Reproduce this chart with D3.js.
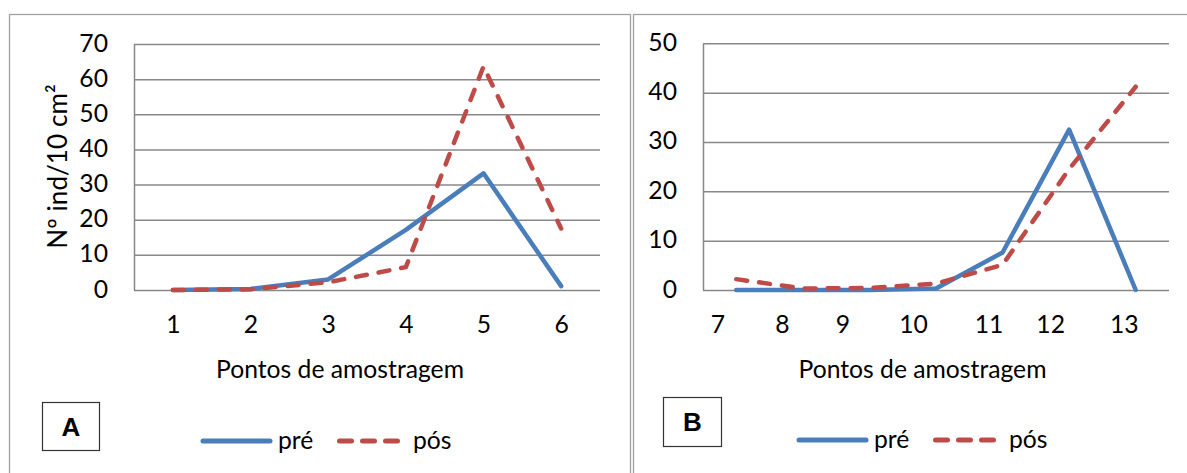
<!DOCTYPE html>
<html>
<head>
<meta charset="utf-8">
<script src="https://cdn.jsdelivr.net/npm/d3@7"></script>
<style>
  html, body { margin: 0; padding: 0; background: #fff; }
  svg { display: block; }
</style>
</head>
<body>
<svg id="chart" width="1187" height="473"></svg>
<script>
// ---------- data ----------
const catsA = ["1", "2", "3", "4", "5", "6"];
const preA = [0, 0.3, 3.0, 17.1, 33.2, 1.1];
const posA = [0, 0.2, 2.2, 6.5, 63.6, 17.5];
const yTicksA = [0, 10, 20, 30, 40, 50, 60, 70];

const catsB = ["7", "8", "9", "10", "11", "12", "13"];
const preB = [0, 0, 0, 0.3, 7.6, 32.5, 0];
const posB = [2.2, 0.3, 0.4, 1.3, 5.1, 24.5, 41.2];
const yTicksB = [0, 10, 20, 30, 40, 50];

const seriesNames = ["pré", "pós"];
const panelLetters = ["A", "B"];
const xTitle = "Pontos de amostragem";
const yTitle = "Nº ind/10 cm²";

// ---------- style / layout ----------
const FONT = "Lato, 'Open Sans', sans-serif";
const BLUE = "#4a7ebb", RED = "#be4b48", GRID = "#888888";

const svg = d3.select("#chart");

// calibrate font size to reference text width
const probe = svg.append("text").attr("font-family", FONT).attr("font-size", 25).text(xTitle);
const w25 = probe.node().getComputedTextLength();
probe.remove();
const FS = 25 * 248 / w25;

const panels = [
  { cats: catsA, pre: preA, pos: posA, yTicks: yTicksA, letter: panelLetters[0],
    frame: [9.5, 14.5, 621], plot: [134, 600, 290, 44], labelShift: null,
    titleX: 340, yTitle: true,
    legend: { x: 201, y: 441 }, box: [42, 402, 57, 48] },
  { cats: catsB, pre: preB, pos: posB, yTicks: yTicksB, letter: panelLetters[1],
    frame: [633.5, 14.5, 600], plot: [703, 1169, 290, 43.3], labelShift: [-19, -21, -27, -23, -14, -19, -12],
    titleX: 922.5, yTitle: false,
    legend: { x: 797, y: 440 }, box: [663, 397, 58, 49] }
];

panels.forEach(p => {
  // frame
  svg.append("rect")
    .attr("x", p.frame[0]).attr("y", p.frame[1])
    .attr("width", p.frame[2]).attr("height", 520)
    .attr("fill", "none").attr("stroke", "#a0a0a0").attr("stroke-width", 1.3);

  const [x0, x1, yb, yt] = p.plot;
  const x = d3.scalePoint().domain(p.cats).range([x0, x1]).padding(0.5);
  const y = d3.scaleLinear().domain([0, d3.max(p.yTicks)]).range([yb, yt]);

  // y axis with gridlines
  const gy = svg.append("g").attr("transform", `translate(${x0},0)`)
    .call(d3.axisLeft(y).tickValues(p.yTicks).tickSizeInner(-(x1 - x0)).tickSizeOuter(0).tickPadding(26));
  gy.select(".domain").attr("stroke", GRID).attr("stroke-width", 1.5);
  gy.selectAll(".tick line").attr("stroke", GRID).attr("stroke-width", 1.5);
  gy.selectAll(".tick text").attr("font-family", FONT).attr("font-size", FS)
    .attr("fill", "#000").attr("dy", null).attr("y", 7);

  // x axis labels
  const gx = svg.append("g").attr("transform", `translate(0,${yb})`)
    .call(d3.axisBottom(x).tickSize(0).tickPadding(0));
  gx.select(".domain").remove();
  gx.selectAll(".tick text").attr("font-family", FONT).attr("font-size", FS)
    .attr("fill", "#000").attr("dy", null).attr("y", 43)
    .attr("x", (d, i) => p.labelShift ? p.labelShift[i] : 0);

  // lines
  const line = d3.line().x((d, i) => x(p.cats[i])).y(d => y(d));
  svg.append("path").datum(p.pre).attr("d", line)
    .attr("fill", "none").attr("stroke", BLUE).attr("stroke-width", 4.5)
    .attr("stroke-linecap", "round").attr("stroke-linejoin", "round");
  svg.append("path").datum(p.pos).attr("d", line)
    .attr("fill", "none").attr("stroke", RED).attr("stroke-width", 4.5)
    .attr("stroke-dasharray", "11,12")
    .attr("stroke-linecap", "round").attr("stroke-linejoin", "round");

  // x title
  svg.append("text").attr("x", p.titleX).attr("y", 378)
    .attr("text-anchor", "middle").attr("font-family", FONT).attr("font-size", FS)
    .attr("fill", "#000").text(xTitle);

  // y title
  if (p.yTitle) {
    svg.append("text").attr("transform", "translate(66.5,166.5) rotate(-90)")
      .attr("text-anchor", "middle").attr("font-family", FONT).attr("font-size", FS * 1.06)
      .attr("fill", "#000").text(yTitle);
  }

  // legend
  const L = p.legend;
  svg.append("line").attr("x1", L.x + 2).attr("x2", L.x + 69).attr("y1", L.y).attr("y2", L.y)
    .attr("stroke", BLUE).attr("stroke-width", 5).attr("stroke-linecap", "round");
  svg.append("text").attr("x", L.x + 77).attr("y", L.y + 8)
    .attr("font-family", FONT).attr("font-size", FS).attr("fill", "#000").text(seriesNames[0]);
  svg.append("line").attr("x1", L.x + 138.5).attr("x2", L.x + 197).attr("y1", L.y).attr("y2", L.y)
    .attr("stroke", RED).attr("stroke-width", 5).attr("stroke-linecap", "round")
    .attr("stroke-dasharray", "12,11");
  svg.append("text").attr("x", L.x + 212).attr("y", L.y + 8)
    .attr("font-family", FONT).attr("font-size", FS).attr("fill", "#000").text(seriesNames[1]);

  // letter box
  const [bx, by, bw, bh] = p.box;
  svg.append("rect").attr("x", bx + 0.5).attr("y", by + 0.5).attr("width", bw).attr("height", bh)
    .attr("fill", "#fff").attr("stroke", "#333").attr("stroke-width", 1.2);
  svg.append("text").attr("x", bx + bw / 2 + 0.5).attr("y", by + bh / 2 + 9.5)
    .attr("text-anchor", "middle").attr("font-family", "'Liberation Sans', Arial, sans-serif")
    .attr("font-weight", "bold").attr("font-size", 26).attr("fill", "#000").text(p.letter);
});
</script>
</body>
</html>
